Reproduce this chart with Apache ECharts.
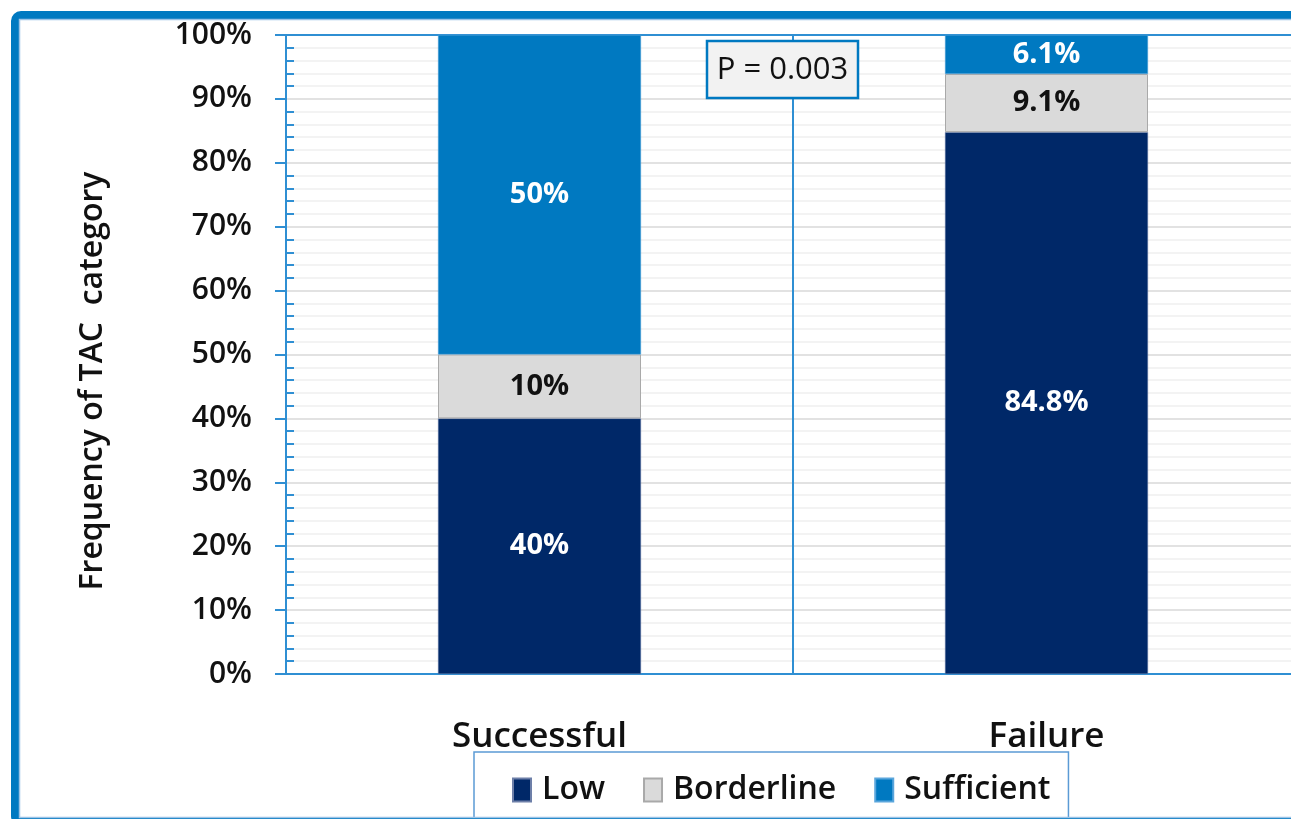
<!DOCTYPE html>
<html>
<head>
<meta charset="utf-8">
<script src="https://cdn.jsdelivr.net/npm/echarts@6/dist/echarts.min.js"></script>
<style>
  html, body { margin: 0; padding: 0; background: #fff; overflow: hidden; }
  #main { width: 1291px; height: 819px; }
</style>
</head>
<body>
<div id="main"></div>
<script>
var myChart = echarts.init(document.getElementById('main'))

var categories = ['Successful', 'Failure']
var lowValues = [40, 84.8]
var borderlineValues = [10, 9.1]
var sufficientValues = [50, 6.1]
var yTicks = [0, 10, 20, 30, 40, 50, 60, 70, 80, 90, 100]
var pText = 'P = 0.003'

var fontFamily = '"Open Sans", "Noto Sans", sans-serif'
var blue = '#0079c1'
var lineBlue = '#2f8fd3'

function segLabel(color) {
  return {
    show: true,
    position: 'inside',
    formatter: '{c}%',
    color: color,
    fontFamily: fontFamily,
    fontWeight: 'bold',
    fontSize: 29,
  }
}

var option = {
  animation: false,
  backgroundColor: '#fff',
  grid: {
    left: 286,
    top: 35,
    width: 1014,
    bottom: 145,
    outerBoundsMode: 'none',
    containLabel: false,
  },
  legend: {
    left: 474,
    top: 752,
    padding: [22, 18, 30, 38],
    itemWidth: 18,
    itemHeight: 23,
    itemGap: 38,
    icon: 'rect',
    borderColor: '#5b9bd5',
    borderWidth: 1.5,
    backgroundColor: '#fff',
    textStyle: {
      fontFamily: fontFamily,
      fontWeight: 600,
      fontSize: 32,
      color: '#111',
      padding: [0, 0, 0, 6],
    },
    data: ['Low', 'Borderline', 'Sufficient'],
  },
  xAxis: [
    {
      type: 'category',
      data: categories,
      axisLine: { show: true, lineStyle: { color: lineBlue, width: 2 } },
      axisTick: { show: false },
      axisLabel: {
        margin: 46,
        fontFamily: fontFamily,
        fontWeight: 600,
        fontSize: 35,
        color: '#111',
      },
      splitLine: { show: true, lineStyle: { color: lineBlue, width: 2 } },
    },
    {
      type: 'category',
      position: 'top',
      data: categories,
      axisLine: { show: true, lineStyle: { color: lineBlue, width: 2 } },
      axisTick: { show: false },
      axisLabel: { show: false },
    },
  ],
  yAxis: {
    type: 'value',
    min: yTicks[0],
    max: yTicks[yTicks.length - 1],
    interval: 10,
    axisLine: { show: true, lineStyle: { color: lineBlue, width: 2 } },
    axisTick: { show: true, length: 11, lineStyle: { color: lineBlue, width: 2 } },
    minorTick: { show: true, splitNumber: 5, length: -8, lineStyle: { color: lineBlue, width: 2 } },
    minorSplitLine: { show: true, lineStyle: { color: '#f0f0f0', width: 1.5 } },
    splitLine: { show: true, lineStyle: { color: '#d9d9d9', width: 1.5 } },
    axisLabel: {
      margin: 34,
      formatter: '{value}%',
      fontFamily: fontFamily,
      fontWeight: 600,
      fontSize: 30,
      color: '#111',
    },
  },
  graphic: [
    {
      type: 'rect',
      shape: { x: 15, y: 15, width: 1300, height: 807, r: 6 },
      style: { fill: 'none', stroke: blue, lineWidth: 8 },
      z: 100,
    },
    {
      type: 'rect',
      shape: { x: 19.5, y: 19.5, width: 1300, height: 798 },
      style: { fill: 'none', stroke: '#9dc3e6', lineWidth: 1.5 },
      z: 100,
    },
    {
      type: 'text',
      x: 93,
      y: 381,
      rotation: Math.PI / 2,
      style: {
        text: 'Frequency of TAC  category',
        fontFamily: fontFamily,
        fontWeight: 600,
        fontSize: 32,
        fill: '#111',
        align: 'center',
        verticalAlign: 'middle',
      },
      z: 100,
    },
    {
      type: 'rect',
      shape: { x: 707, y: 41, width: 151, height: 57 },
      style: { fill: '#f2f2f2', stroke: blue, lineWidth: 2.5 },
      z: 100,
    },
    {
      type: 'text',
      x: 782.5,
      y: 70,
      style: {
        text: pText,
        fontFamily: fontFamily,
        fontSize: 31,
        fill: '#111',
        align: 'center',
        verticalAlign: 'middle',
      },
      z: 101,
    },
  ],
  series: [
    {
      name: 'Low',
      type: 'bar',
      stack: 'total',
      barWidth: 203,
      data: lowValues,
      itemStyle: { color: '#002868', borderColor: '#6d7fa8', borderWidth: 0.5 },
      label: segLabel('#fff'),
    },
    {
      name: 'Borderline',
      type: 'bar',
      stack: 'total',
      data: borderlineValues,
      itemStyle: { color: '#dadada', borderColor: '#a9a9a9', borderWidth: 1 },
      label: segLabel('#111'),
    },
    {
      name: 'Sufficient',
      type: 'bar',
      stack: 'total',
      data: sufficientValues,
      itemStyle: { color: blue, borderColor: '#5aa6dc', borderWidth: 0.5 },
      label: segLabel('#fff'),
    },
  ],
}

myChart.setOption(option)
</script>
</body>
</html>
